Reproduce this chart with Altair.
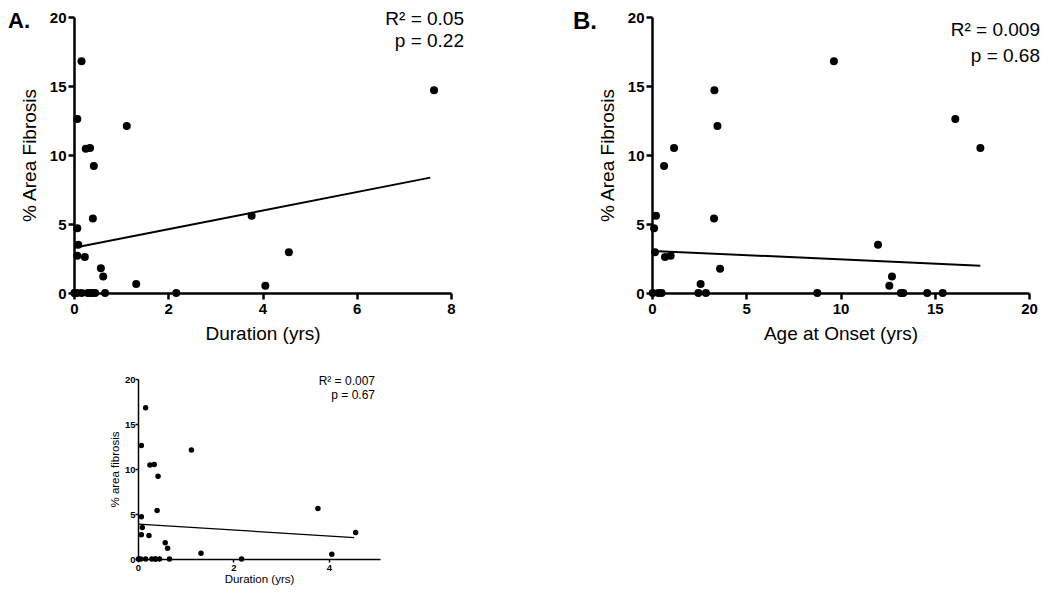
import altair as alt
import pandas as pd

# ---------------- data ----------------
# Panel A / bottom panel: duration (yrs) vs % area fibrosis
duration = [0.16, 0.07, 1.12, 0.25, 0.34, 0.42, 0.40, 0.07, 0.09, 0.07, 0.23, 0.57, 0.62, 1.32,
            3.77, 4.06, 4.56, 7.64,
            0.01, 0.02, 0.06, 0.16, 0.29, 0.36, 0.37, 0.45, 0.66, 2.17]
fibrosis_a = [16.8, 12.6, 12.1, 10.45, 10.5, 9.2, 5.4, 4.7, 3.5, 2.7, 2.6, 1.8, 1.2, 0.65,
              5.6, 0.53, 2.95, 14.7,
              0, 0, 0, 0, 0, 0, 0, 0, 0, 0]
# Panel B: age at onset (yrs) vs % area fibrosis
onset = [3.31, 3.47, 1.17, 0.64, 0.21, 0.11, 3.29, 0.16, 0.69, 0.99, 3.61, 2.58,
         9.65, 16.09, 17.42, 11.99, 12.73, 12.59,
         0.04, 0.34, 0.51, 2.46, 2.86, 8.77, 13.2, 13.33, 14.6, 15.42]
fibrosis_b = [14.7, 12.1, 10.5, 9.2, 5.6, 4.7, 5.4, 2.95, 2.6, 2.7, 1.76, 0.65,
              16.8, 12.6, 10.5, 3.5, 1.2, 0.53,
              0, 0, 0, 0, 0, 0, 0, 0, 0, 0]
# regression lines (end points)
fit_a_x = [0.0, 7.56]
fit_a_y = [3.28, 8.36]
fit_b_x = [0.04, 17.42]
fit_b_y = [3.05, 1.98]
fit_c_x = [0.01, 4.53]
fit_c_y = [3.88, 2.38]

ticks_y = [0, 5, 10, 15, 20]
ticks_a = [0, 2, 4, 6, 8]
ticks_b = [0, 5, 10, 15, 20]
ticks_c = [0, 2, 4]

df_a = pd.DataFrame({"x": duration, "y": fibrosis_a})
df_b = pd.DataFrame({"x": onset, "y": fibrosis_b})
df_c = df_a[df_a["x"] < 5].reset_index(drop=True)
fa = pd.DataFrame({"x": fit_a_x, "y": fit_a_y})
fb = pd.DataFrame({"x": fit_b_x, "y": fit_b_y})
fc = pd.DataFrame({"x": fit_c_x, "y": fit_c_y})

W, H = 1034, 577
FONT = "Liberation Sans"


def panel(pts, fit, xdom, xrange, yrange, xticks, xtitle, ytitle, big):
    if big:
        ax = dict(labelFontSize=15, labelFontWeight="bold", titleFontSize=19, tickSize=6,
                  tickWidth=2.5, domainWidth=2.5, labelPadding=2)
        xt = dict(titlePadding=8)
        yt = dict(titlePadding=10)
        psize, lw = 64, 2
    else:
        ax = dict(labelFontSize=9.5, labelFontWeight="bold", titleFontSize=11.5, tickSize=3,
                  tickWidth=1.5, domainWidth=1.5, labelPadding=0)
        xt = dict(titleY=23, titleBaseline="alphabetic")
        yt = dict(titlePadding=4)
        psize, lw = 30, 1.3
    common = dict(grid=False, domainColor="black", tickColor="black", labelColor="black",
                  titleColor="black", labelFont=FONT, titleFont=FONT, titleFontWeight="normal",
                  format="d", **ax)
    xoff = yrange[0] - H
    yoff = -xrange[0]
    xaxis = alt.Axis(orient="bottom", values=xticks, offset=xoff, title=xtitle,
                     labelFlush=False, **xt, **common)
    yaxis = alt.Axis(orient="left", values=ticks_y, offset=yoff, title=ytitle, **yt, **common)
    xs = alt.Scale(domain=xdom, range=xrange, nice=False, zero=False)
    ys = alt.Scale(domain=[0, 20], range=yrange, nice=False, zero=False)
    p = alt.Chart(pts).mark_circle(size=psize, color="black", opacity=1).encode(
        x=alt.X("x:Q", scale=xs, axis=xaxis),
        y=alt.Y("y:Q", scale=ys, axis=yaxis),
    )
    l = alt.Chart(fit).mark_line(color="black", strokeWidth=lw).encode(
        x=alt.X("x:Q", scale=xs),
        y=alt.Y("y:Q", scale=ys),
    )
    return alt.layer(p, l)


pA = panel(df_a, fa, [0, 8], [66, 443], [285, 9], ticks_a, "Duration (yrs)", "% Area Fibrosis", True)
pB = panel(df_b, fb, [0, 20], [644, 1021], [285, 9], ticks_b, "Age at Onset (yrs)", "% Area Fibrosis", True)
pC = panel(df_c, fc, [0, 5.07], [130, 372], [551, 371], ticks_c, "Duration (yrs)", "% area fibrosis", False)


def label(txt, x, y, size, weight="normal", align="right"):
    return alt.Chart(pd.DataFrame({"t": [txt]})).mark_text(
        font=FONT, fontSize=size, fontWeight=weight, align=align, baseline="alphabetic",
        color="black").encode(text="t:N", x=alt.value(x), y=alt.value(y))


texts = [
    label("A.", 0, 20, 22, "bold", "left"),
    label("B.", 565, 21, 24, "bold", "left"),
    label("R² = 0.05", 456, 17, 19),
    label("p = 0.22", 456, 39, 19),
    label("R² = 0.009", 1032, 28, 19),
    label("p = 0.68", 1032, 54, 19),
    label("R² = 0.007", 367, 377, 12),
    label("p = 0.67", 367, 391, 12),
]

chart = alt.layer(pA, pB, pC, *texts).resolve_scale(
    x="independent", y="independent"
).properties(
    width=W, height=H, autosize=alt.AutoSizeParams(type="none"), padding=0
).configure_view(stroke=None)

chart.save("out.html", embed_options={"renderer": "svg", "actions": False})
